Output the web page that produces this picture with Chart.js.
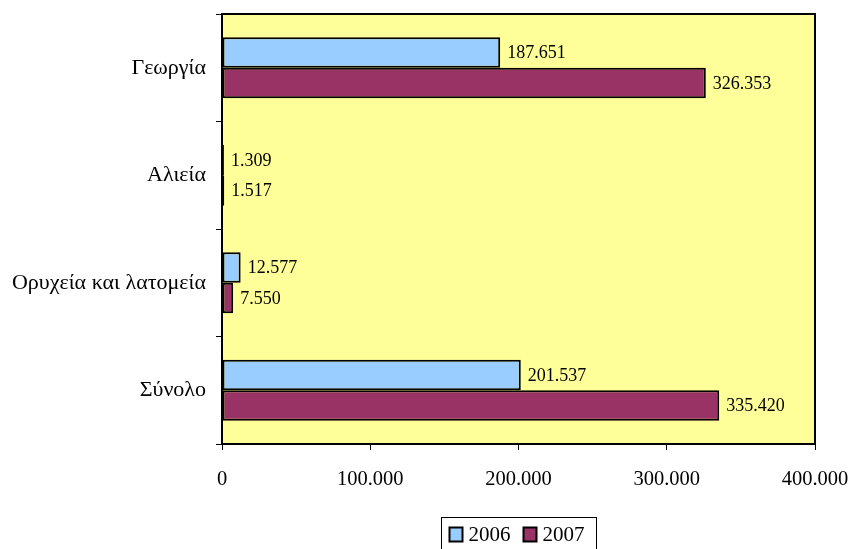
<!DOCTYPE html>
<html lang="el">
<head>
<meta charset="UTF-8">
<title>Γεωργία, Αλιεία, Ορυχεία 2006-2007</title>
<script src="https://cdn.jsdelivr.net/npm/chart.js"></script>
<style>
  html, body { margin: 0; padding: 0; background: #fff; }
  #wrap { width: 853px; height: 549px; }
</style>
</head>
<body>
<div id="wrap"><canvas id="chart"></canvas></div>
<script>
// data
const categories = ['Γεωργία', 'Αλιεία', 'Ορυχεία και λατομεία', 'Σύνολο'];
const values2006 = [187651, 1309, 12577, 201537];
const values2007 = [326353, 1517, 7550, 335420];
const xTicks = [0, 100000, 200000, 300000, 400000];

const FONT = 'Liberation Serif';

function fmt(v) {
    return String(v).replace(/\B(?=(\d{3})+(?!\d))/g, '.');
}

// yellow plot background + frame
const plotFrame = {
    id: 'plotFrame',
    beforeDatasetsDraw(chart) {
        const a = chart.chartArea, ctx = chart.ctx;
        ctx.save();
        ctx.fillStyle = '#FFFF99';
        ctx.fillRect(a.left, a.top, a.right - a.left, a.bottom - a.top);
        ctx.restore();
    },
    afterDatasetsDraw(chart) {
        const a = chart.chartArea, ctx = chart.ctx;
        ctx.save();
        ctx.strokeStyle = '#000';
        ctx.lineWidth = 2;
        ctx.strokeRect(a.left, a.top, a.right - a.left, a.bottom - a.top);
        ctx.restore();
    }
};

// value labels next to bars
const barLabels = {
    id: 'barLabels',
    afterDatasetsDraw(chart) {
        const ctx = chart.ctx;
        ctx.save();
        ctx.font = '18px "' + FONT + '"';
        ctx.fillStyle = '#000';
        ctx.textAlign = 'left';
        ctx.textBaseline = 'middle';
        chart.data.datasets.forEach((ds, i) => {
            chart.getDatasetMeta(i).data.forEach((bar, j) => {
                ctx.fillText(fmt(ds.data[j]), bar.x + 7, bar.y + 1);
            });
        });
        ctx.restore();
    }
};

// boxed legend under the axis, centred on the plot
const boxLegend = {
    id: 'boxLegend',
    afterDraw(chart) {
        const ctx = chart.ctx;
        const a = chart.chartArea;
        ctx.save();
        ctx.font = '21px "' + FONT + '"';
        const widths = chart.data.datasets.map(ds => ctx.measureText(ds.label).width);
        const w = 8 + widths.reduce((s, tw) => s + 13 + 6 + tw, 0) + 13 * (widths.length - 1) + 12;
        const left = Math.round((a.left + a.right) / 2 - w / 2) + 0.5;
        const top = 517.5;
        ctx.strokeStyle = '#000';
        ctx.lineWidth = 1;
        ctx.strokeRect(left, top, w, 40);
        ctx.textAlign = 'left';
        ctx.textBaseline = 'middle';
        let x = left + 8;
        chart.data.datasets.forEach((ds, i) => {
            ctx.fillStyle = ds.backgroundColor;
            ctx.fillRect(x, top + 10, 13, 14);
            ctx.lineWidth = 2;
            ctx.strokeRect(x, top + 10, 13, 14);
            ctx.fillStyle = '#000';
            ctx.fillText(ds.label, x + 19, top + 18);
            x += 19 + widths[i] + 13;
        });
        ctx.restore();
    }
};

new Chart(document.getElementById('chart'), {
    type: 'bar',
    data: {
        labels: categories,
        datasets: [
            { label: '2006', data: values2006, backgroundColor: '#99CCFF', borderColor: '#000', borderWidth: 2, borderSkipped: false },
            { label: '2007', data: values2007, backgroundColor: '#993366', borderColor: '#000', borderWidth: 2, borderSkipped: false }
        ]
    },
    options: {
        indexAxis: 'y',
        responsive: true,
        maintainAspectRatio: false,
        animation: false,
        categoryPercentage: 0.567,
        barPercentage: 1,
        layout: { padding: { left: 0, right: 38, top: 14, bottom: 0 } },
        scales: {
            x: {
                min: 0,
                max: 400000,
                afterBuildTicks(axis) { axis.ticks = xTicks.map(v => ({ value: v })); },
                afterFit(axis) { axis.height = 105; axis.paddingLeft = 0; axis.paddingRight = 0; },
                ticks: {
                    color: '#000',
                    padding: 17,
                    maxRotation: 0,
                    font: { family: FONT, size: 20.5 },
                    callback: v => fmt(v)
                },
                grid: { drawOnChartArea: false, color: '#000', tickLength: 6, tickWidth: 1 },
                border: { display: false }
            },
            y: {
                afterFit(axis) { axis.width = 222; axis.paddingTop = 0; axis.paddingBottom = 0; },
                ticks: {
                    color: '#000',
                    padding: 10,
                    font: { family: FONT, size: 22 }
                },
                grid: { drawOnChartArea: false, color: '#000', tickLength: 6, tickWidth: 1 },
                border: { display: false }
            }
        },
        plugins: {
            legend: { display: false },
            tooltip: { enabled: false }
        }
    },
    plugins: [plotFrame, barLabels, boxLegend]
});
</script>
</body>
</html>
